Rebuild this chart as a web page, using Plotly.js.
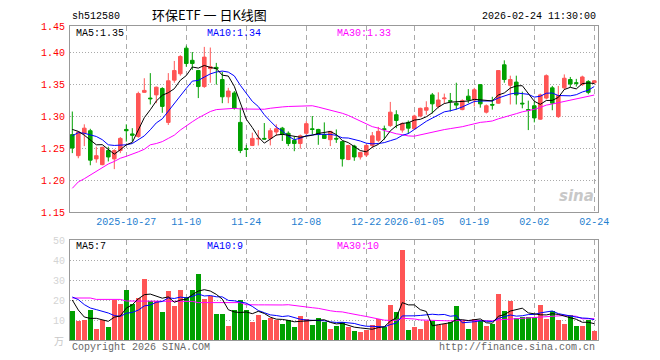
<!DOCTYPE html>
<html><head><meta charset="utf-8">
<script src="https://cdn.plot.ly/plotly-3.0.1.min.js"></script>
<style>html,body{margin:0;padding:0;background:#fff;}#chart{width:660px;height:360px;}</style>
</head><body><div id="chart"></div>
<script>
// ---- data ----
const dates = [
 '2025-10-14','2025-10-15','2025-10-16','2025-10-17','2025-10-20','2025-10-21','2025-10-22','2025-10-23','2025-10-24',
 '2025-10-27','2025-10-28','2025-10-29','2025-10-30','2025-10-31',
 '2025-11-03','2025-11-04','2025-11-05','2025-11-06','2025-11-07',
 '2025-11-10','2025-11-11','2025-11-12','2025-11-13','2025-11-14',
 '2025-11-17','2025-11-18','2025-11-19','2025-11-20','2025-11-21',
 '2025-11-24','2025-11-25','2025-11-26','2025-11-27','2025-11-28',
 '2025-12-01','2025-12-02','2025-12-03','2025-12-04','2025-12-05',
 '2025-12-08','2025-12-09','2025-12-10','2025-12-11','2025-12-12',
 '2025-12-15','2025-12-16','2025-12-17','2025-12-18','2025-12-19',
 '2025-12-22','2025-12-23','2025-12-24','2025-12-25','2025-12-26',
 '2025-12-29','2025-12-30','2025-12-31',
 '2026-01-05','2026-01-06','2026-01-07','2026-01-08','2026-01-09',
 '2026-01-12','2026-01-13','2026-01-14','2026-01-15','2026-01-16',
 '2026-01-19','2026-01-20','2026-01-21','2026-01-22','2026-01-23',
 '2026-01-26','2026-01-27','2026-01-28','2026-01-29','2026-01-30',
 '2026-02-02','2026-02-03','2026-02-04','2026-02-05','2026-02-06',
 '2026-02-09','2026-02-10','2026-02-11','2026-02-12','2026-02-13',
 '2026-02-24'];
const openP = [1.271,1.238,1.273,1.277,1.233,1.224,1.246,1.233,1.246,1.279,
 1.272,1.268,1.337,1.328,1.333,1.343,1.290,1.356,1.366,1.406,
 1.387,1.371,1.346,1.374,1.376,1.357,1.330,1.336,1.290,1.249,
 1.254,1.264,1.265,1.265,1.275,1.281,1.273,1.262,1.257,1.273,
 1.280,1.279,1.271,1.263,1.265,1.260,1.232,1.253,1.236,1.239,
 1.254,1.262,1.280,1.285,1.302,1.278,1.290,1.280,1.300,1.309,
 1.333,1.315,1.327,1.324,1.320,1.310,1.331,1.325,1.349,1.306,
 1.318,1.320,1.380,1.348,1.353,1.320,1.310,1.316,1.295,1.328,
 1.344,1.299,1.344,1.357,1.352,1.349,1.354,1.352];
const highP = [1.307,1.276,1.287,1.280,1.252,1.252,1.252,1.248,1.267,1.287,
 1.281,1.338,1.359,1.367,1.346,1.345,1.367,1.386,1.395,1.410,
 1.400,1.372,1.408,1.407,1.383,1.369,1.344,1.339,1.313,1.255,
 1.274,1.278,1.289,1.281,1.287,1.283,1.276,1.268,1.271,1.292,
 1.300,1.280,1.290,1.276,1.279,1.260,1.255,1.255,1.244,1.256,
 1.275,1.283,1.285,1.322,1.309,1.290,1.293,1.302,1.313,1.323,
 1.336,1.337,1.335,1.336,1.352,1.326,1.342,1.344,1.350,1.318,
 1.330,1.371,1.387,1.363,1.363,1.338,1.324,1.323,1.335,1.365,
 1.347,1.347,1.365,1.361,1.358,1.363,1.356,1.356];
const lowP = [1.242,1.234,1.253,1.223,1.227,1.223,1.229,1.217,1.242,1.260,
 1.260,1.266,1.336,1.318,1.320,1.305,1.286,1.352,1.363,1.377,
 1.372,1.328,1.344,1.352,1.349,1.320,1.320,1.310,1.242,1.236,
 1.253,1.254,1.263,1.254,1.269,1.261,1.253,1.245,1.249,1.271,
 1.271,1.255,1.264,1.253,1.258,1.221,1.231,1.230,1.232,1.236,
 1.250,1.259,1.263,1.283,1.281,1.274,1.272,1.279,1.298,1.302,
 1.304,1.312,1.319,1.307,1.310,1.309,1.320,1.315,1.313,1.304,
 1.310,1.319,1.352,1.318,1.318,1.312,1.278,1.290,1.294,1.326,
 1.309,1.297,1.341,1.345,1.346,1.347,1.334,1.351];
const closeP = [1.250,1.275,1.281,1.231,1.238,1.251,1.236,1.246,1.265,1.277,
 1.270,1.335,1.340,1.327,1.345,1.315,1.355,1.371,1.393,1.382,
 1.382,1.346,1.392,1.377,1.374,1.330,1.339,1.312,1.246,1.248,
 1.265,1.265,1.264,1.277,1.280,1.271,1.257,1.257,1.269,1.288,
 1.279,1.271,1.265,1.276,1.264,1.233,1.254,1.236,1.243,1.254,
 1.269,1.276,1.279,1.306,1.293,1.288,1.281,1.300,1.312,1.313,
 1.319,1.325,1.328,1.323,1.317,1.324,1.325,1.341,1.319,1.316,
 1.317,1.371,1.357,1.357,1.333,1.319,1.309,1.297,1.333,1.363,
 1.320,1.332,1.359,1.350,1.351,1.361,1.337,1.355];
const volume = [14.3,9.3,9.8,15.2,5.6,9.8,6.3,20.2,18.2,25.2,
 18.2,21.0,30.7,19.7,19.3,13.8,24.3,17.2,25.2,21.5,
 25.2,33.2,20.7,21.8,13.2,13.2,6.8,15.2,20.2,14.8,
 8.8,12.7,9.8,11.0,9.8,8.2,10.2,6.3,12.2,10.7,
 7.7,11.2,8.8,5.7,6.8,9.0,6.3,4.3,3.8,5.2,
 7.3,10.5,6.3,17.7,13.8,45.2,4.8,6.3,5.7,9.3,
 9.3,7.7,8.0,8.8,16.8,9.3,5.7,10.7,10.2,7.2,
 8.0,23.2,14.7,19.3,11.0,11.3,11.5,11.5,17.7,10.7,
 14.3,9.8,8.2,12.7,6.8,6.8,9.8,4.7];
// moving-average values at the left edge (they depend on days before the window)
const ma5Head = [1.279,1.276,1.270,1.262];
const ma10Head = [1.269,1.274,1.273,1.271,1.268,1.263,1.255,1.254,1.254];
const ma30Head = [1.187,1.197,1.202,1.208,1.214,1.220,1.225,1.229,1.234,1.237,
 1.240,1.244,1.248,1.255,1.257,1.260,1.265,1.270,1.278,1.285,
 1.291,1.297,1.302,1.307,1.310,1.311,1.312,1.312,1.311];
const vma5Head = [20.0,15.0,11.5,10.8];
const vma10Head = [21.5,20.2,17.7,16.0,15.2,14.3,13.5,12.2,11.8];
const vma30Head = [21.0,21.0,21.0,21.0,20.3,20.3,20.3,20.3,20.3,19.5,
 19.5,19.5,19.5,19.3,19.3,19.3,19.3,19.3,19.3,19.3,
 19.3,18.7,18.7,18.7,18.7,18.7,18.7,18.7,18.7];
const tickDates = ['2025-10-27','2025-11-10','2025-11-24','2025-12-08','2025-12-22','2026-01-05','2026-01-19','2026-02-02','2026-02-24'];
const tickText = ['2025-10-27','11-10','11-24','12-08','12-22','2026-01-05','01-19','02-02','02-24'];
const priceTicks = [1.15,1.20,1.25,1.30,1.35,1.40];
const priceTickText = ['1.15','1.20','1.25','1.30','1.35','1.40','1.45'];
const volTicks = [10,20,30,40,50];
const volTickText = ['10','20','30','40','50'];
const volUnit = '万';

// ---- helpers ----
function movingAvg(vals, n, head){
  return vals.map((v,i)=>{
    if(i < n-1) return head[i];
    let s=0; for(let k=i-n+1;k<=i;k++) s+=vals[k];
    return s/n;
  });
}
const RED='#ff5555', GREEN='#00a000';
const MONO='Liberation Mono, DejaVu Sans Mono, monospace';

const ma5 = movingAvg(closeP,5,ma5Head), ma10 = movingAvg(closeP,10,ma10Head), ma30 = movingAvg(closeP,30,ma30Head);
const vma5 = movingAvg(volume,5,vma5Head), vma10 = movingAvg(volume,10,vma10Head), vma30 = movingAvg(volume,30,vma30Head);
const volColors = closeP.map((c,i)=> c>=openP[i] ? RED : GREEN);

const lineTr = (y, color, xa, ya)=>({type:'scatter',mode:'lines',x:dates,y:y,xaxis:xa,yaxis:ya,
  line:{color:color,width:1},hoverinfo:'skip',showlegend:false});

const traces = [
 {type:'candlestick',x:dates,open:openP,high:highP,low:lowP,close:closeP,xaxis:'x',yaxis:'y',
  increasing:{line:{color:RED,width:1},fillcolor:RED},
  decreasing:{line:{color:GREEN,width:1},fillcolor:GREEN},
  whiskerwidth:0,hoverinfo:'skip',showlegend:false},
 lineTr(ma30,'#ff00ff','x','y'), lineTr(ma10,'#0000ff','x','y'), lineTr(ma5,'#000000','x','y'),
 {type:'bar',x:dates,y:volume,xaxis:'x2',yaxis:'y2',marker:{color:volColors,line:{width:0}},width:0.82,
  hoverinfo:'skip',showlegend:false},
 lineTr(vma30,'#ff00ff','x2','y2'), lineTr(vma10,'#0000ff','x2','y2'), lineTr(vma5,'#000000','x2','y2')
];

// pixel helpers for annotation placement
const L=70, R=598, T=26, B=340;
const px = x => (x-L)/(R-L), py = y => (B-y)/(B-T);

const xRange = [-0.383, dates.length-1+0.617];
const gridX = {type:'category',range:xRange,tickmode:'array',tickvals:tickDates,
  showgrid:true,gridcolor:'#aaaaaa',griddash:'5px,4px',gridwidth:1,
  showline:true,mirror:true,linecolor:'#999999',linewidth:1,ticks:'',zeroline:false,fixedrange:true};

const layout = {
  width:660,height:360,paper_bgcolor:'#fff',plot_bgcolor:'#fff',
  margin:{l:L,r:660-R,t:T,b:360-B},
  showlegend:false,boxgap:0.15,bargap:0,
  font:{family:MONO,size:10,color:'#000'},
  xaxis:Object.assign({},gridX,{anchor:'y',ticktext:tickText,showticklabels:true,
    tickfont:{family:MONO,size:10,color:'#1f80d0'},rangeslider:{visible:false}}),
  xaxis2:Object.assign({},gridX,{anchor:'y2',matches:'x',showticklabels:false}),
  yaxis:{domain:[py(212),1],range:[1.15,1.15+(212-T)/640],tickmode:'array',
    tickvals:priceTicks.concat([1.15+(212-T)/640]),ticktext:priceTickText,
    tickfont:{family:MONO,size:10,color:'#ff0000'},
    showgrid:true,gridcolor:'#aaaaaa',griddash:'1px,2px',showline:true,mirror:true,linecolor:'#999999',
    ticks:'',zeroline:false,fixedrange:true,ticklabelstandoff:2},
  yaxis2:{domain:[0,py(240)],range:[0,50],tickmode:'array',tickvals:volTicks,ticktext:volTickText,
    tickfont:{family:MONO,size:10,color:'#d4d4d4'},
    showgrid:true,gridcolor:'#aaaaaa',griddash:'1px,2px',showline:true,mirror:true,linecolor:'#999999',
    ticks:'',zeroline:false,fixedrange:true,ticklabelstandoff:2},
  annotations:[
    {text:'sh512580',x:px(70),y:py(16),xanchor:'left',yanchor:'middle',font:{family:MONO,size:10,color:'#000'}},
    {text:'环保ETF 一 日K线图',x:px(150),y:py(15),xanchor:'left',yanchor:'middle',font:{family:'Noto Sans CJK SC',size:13,color:'#000'}},
    {text:'2026-02-24 11:30:00',x:px(598),y:py(16),xanchor:'right',yanchor:'middle',font:{family:MONO,size:10,color:'#000'}},
    {text:'MA5:1.35',x:px(74),y:py(33),xanchor:'left',yanchor:'middle',font:{family:MONO,size:10,color:'#000'}},
    {text:'MA10:1.34',x:px(205),y:py(33),xanchor:'left',yanchor:'middle',font:{family:MONO,size:10,color:'#0000ff'}},
    {text:'MA30:1.33',x:px(335),y:py(33),xanchor:'left',yanchor:'middle',font:{family:MONO,size:10,color:'#ff00ff'}},
    {text:'MA5:7',x:px(74),y:py(246),xanchor:'left',yanchor:'middle',font:{family:MONO,size:10,color:'#000'}},
    {text:'MA10:9',x:px(205),y:py(246),xanchor:'left',yanchor:'middle',font:{family:MONO,size:10,color:'#0000ff'}},
    {text:'MA30:10',x:px(335),y:py(246),xanchor:'left',yanchor:'middle',font:{family:MONO,size:10,color:'#ff00ff'}},
    {text:volUnit,x:px(66),y:py(340),xanchor:'right',yanchor:'middle',font:{family:'Noto Sans CJK SC',size:10,color:'#c8c8c8'}},
    {text:'<i><b>sina</b></i>',x:px(596),y:py(196),xanchor:'right',yanchor:'middle',font:{family:'DejaVu Sans',size:15,color:'#c8c8c8'}},
    {text:'Copyright 2026 SINA.COM',x:px(70),y:py(347),xanchor:'left',yanchor:'middle',font:{family:MONO,size:10,color:'#666'}},
    {text:'http://finance.sina.com.cn',x:px(597),y:py(347),xanchor:'right',yanchor:'middle',font:{family:MONO,size:10,color:'#666'}}
  ].map(a=>Object.assign({xref:'paper',yref:'paper',showarrow:false},a))
};

Plotly.newPlot('chart',traces,layout,{staticPlot:true,displayModeBar:false});
</script>
</body></html>
